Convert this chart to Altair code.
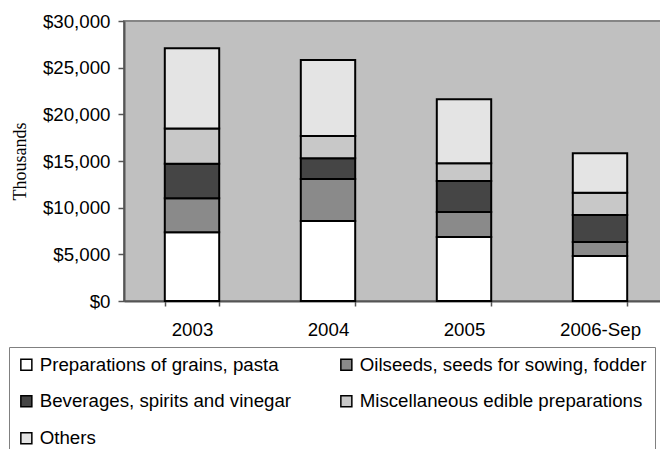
import altair as alt
import pandas as pd

years = ["2003", "2004", "2005", "2006-Sep"]
series = [
    "Preparations of grains, pasta",
    "Oilseeds, seeds for sowing, fodder",
    "Beverages, spirits and vinegar",
    "Miscellaneous edible preparations",
    "Others",
]
grains = [7360, 8570, 6860, 4820]
oilseeds = [3640, 4500, 2680, 1500]
beverages = [3710, 2220, 3320, 2890]
misc = [3770, 2390, 1890, 2390]
others = [8600, 8140, 6860, 4230]
y_ticks = [0, 5000, 10000, 15000, 20000, 25000, 30000]
fills = ["#ffffff", "#8a8a8a", "#454545", "#c8c8c8", "#e4e4e4"]

values = [grains, oilseeds, beverages, misc, others]
rows = []
for i, (s, vals) in enumerate(zip(series, values)):
    for yr, v in zip(years, vals):
        rows.append({"year": yr, "series": s, "value": v, "idx": i})
df = pd.DataFrame(rows)

FONT = "Liberation Sans"
FS = 18.7

chart = (
    alt.Chart(df)
    .mark_bar(stroke="black", strokeWidth=2, opacity=1)
    .encode(
        x=alt.X(
            "year:N",
            sort=years,
            title=None,
            scale=alt.Scale(paddingInner=0.6, paddingOuter=0.3),
            axis=alt.Axis(
                labelAngle=0,
                labelFont=FONT,
                labelFontSize=FS,
                labelColor="black",
                tickBand="extent",
                tickSize=5,
                tickWidth=1.5,
                tickColor="#555555",
                domainColor="#555555",
                domainWidth=2,
                labelPadding=14,
            ),
        ),
        y=alt.Y(
            "value:Q",
            stack="zero",
            scale=alt.Scale(domain=[0, 30000], nice=False),
            axis=alt.Axis(
                values=y_ticks,
                format="$,.0f",
                title="Thousands",
                titleFont="Liberation Serif",
                titleFontSize=18,
                titleFontWeight="normal",
                titleColor="black",
                titleX=-99,
                titleY=140,
                titleBaseline="alphabetic",
                titleAlign="center",
                grid=False,
                tickSize=6,
                tickWidth=1.5,
                tickColor="#555555",
                domainColor="#555555",
                domainWidth=2,
                labelPadding=8,
                labelFont=FONT,
                labelFontSize=FS,
                labelColor="black",
            ),
        ),
        color=alt.Color(
            "series:N",
            sort=series,
            scale=alt.Scale(domain=series, range=fills),
            legend=alt.Legend(
                title=None,
                orient="none",
                direction="horizontal",
                legendX=-115,
                legendY=326,
                columns=2,
                symbolType="square",
                symbolSize=121,
                symbolStrokeColor="black",
                symbolStrokeWidth=1.5,
                symbolOpacity=1,
                labelFont=FONT,
                labelFontSize=FS,
                labelColor="black",
                labelOffset=4,
                labelLimit=500,
                columnPadding=45,
                rowPadding=17,
                padding=8,
                strokeColor="#808080",
            ),
        ),
        order=alt.Order("idx:Q", sort="ascending"),
    )
    .properties(
        width=544,
        height=280,
        autosize=alt.AutoSizeParams(type="none"),
        padding={"left": 116, "top": 13, "right": -8, "bottom": 148},
    )
    .configure_view(fill="#C0C0C0", stroke="#858585", strokeWidth=2)
)

chart.save("out.html", embed_options={"renderer": "svg", "actions": False})
